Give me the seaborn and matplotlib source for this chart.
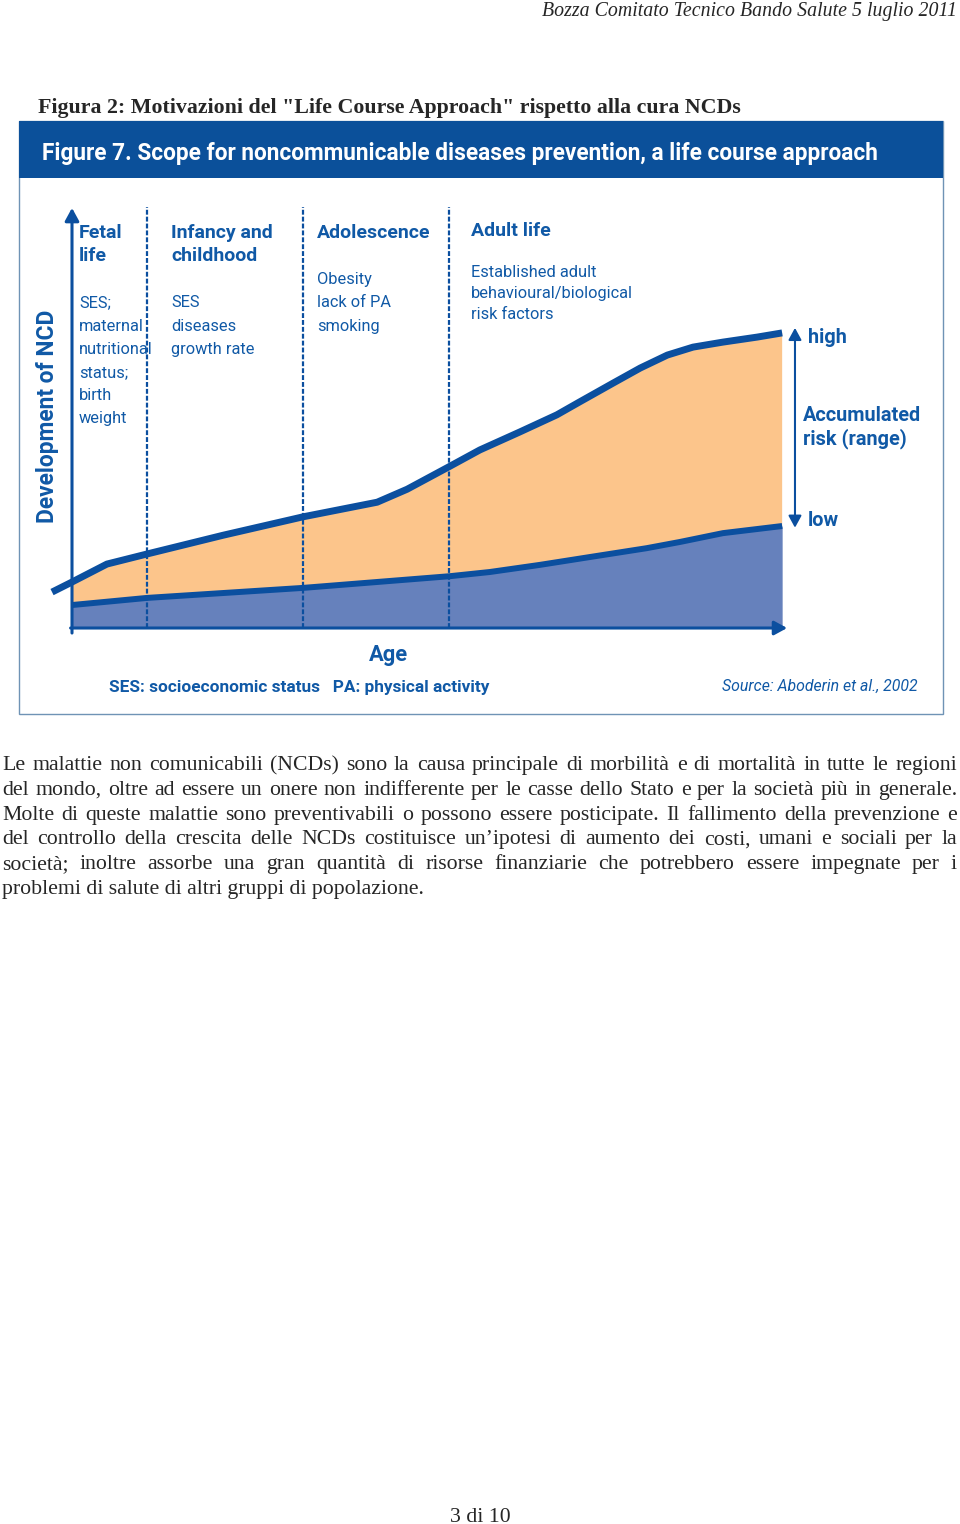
import numpy as np
import matplotlib
matplotlib.use("Agg")
import matplotlib.pyplot as plt
import seaborn as sns
from matplotlib import font_manager
from matplotlib.patches import Rectangle

# ---------------- data (age axis 0-100, risk axis 0-100) ----------------
age_high = [-2.8, 0.0, 4.9, 10.5, 21.2, 32.4, 42.8, 47.0, 53.0, 57.2, 62.8, 68.0,
            71.2, 75.9, 79.7, 83.5, 87.1, 91.3, 96.1, 99.6]
risk_high = [8.6, 11.0, 15.3, 17.7, 22.2, 26.6, 30.1, 33.2, 38.7, 42.6, 46.9, 51.0,
             54.1, 58.6, 62.2, 65.3, 67.2, 68.4, 69.6, 70.6]
age_low = [0.0, 10.5, 32.4, 53.0, 58.6, 65.6, 72.7, 80.6, 85.3, 91.3, 99.6]
risk_low = [5.5, 7.2, 9.6, 12.4, 13.4, 15.1, 17.0, 19.1, 20.6, 22.7, 24.4]
stage_bounds = [10.5, 32.4, 52.9]

stage_titles = [["Fetal", "life"], ["Infancy and", "childhood"], ["Adolescence"], ["Adult life"]]
stage_factors = [["SES;", "maternal", "nutritional", "status;", "birth", "weight"],
                 ["SES", "diseases", "growth rate"],
                 ["Obesity", "lack of PA", "smoking"],
                 ["Established adult", "behavioural/biological", "risk factors"]]

chart_title = "Figure 7. Scope for noncommunicable diseases prevention, a life course approach"
y_label = "Development of NCD"
x_label = "Age"
footnote = "SES: socioeconomic status   PA: physical activity"
source = "Source: Aboderin et al., 2002"
range_labels = ["high", "Accumulated", "risk (range)", "low"]

page_header = "Bozza Comitato Tecnico Bando Salute 5 luglio 2011"
fig_caption = "Figura 2: Motivazioni del \"Life Course Approach\" rispetto alla cura NCDs"
body_lines = [
    "Le malattie non comunicabili (NCDs) sono la causa principale di morbilità e di mortalità in tutte le regioni",
    "del mondo, oltre ad essere un onere non indifferente per le casse dello Stato e per la società più in generale.",
    "Molte di queste malattie sono preventivabili o possono essere posticipate. Il fallimento della prevenzione e",
    "del controllo della crescita delle NCDs costituisce un’ipotesi di aumento dei costi, umani e sociali per la",
    "società; inoltre assorbe una gran quantità di risorse finanziarie che potrebbero essere impegnate per i",
    "problemi di salute di altri gruppi di popolazione.",
]
page_footer = "3 di 10"

# ---------------- style ----------------
sns.set_style("white")
names = {f.name for f in font_manager.fontManager.ttflist}
NARROW = "Liberation Sans Narrow" if "Liberation Sans Narrow" in names else "Roboto"
SERIF = "Liberation Serif"
plt.rcParams["font.family"] = [NARROW, "DejaVu Sans"]

TXT = "#1059a6"
LINE = "#0b4f9f"
BAR = "#0b509a"
ORANGE = "#fcc58b"
BLUEFILL = "#6681bc"

W, H = 960, 1524
fig = plt.figure(figsize=(W / 100, H / 100), dpi=100)
fig.patch.set_facecolor("white")
R = fig.canvas.get_renderer()


def fxy(x, y):
    return x / W, 1 - y / H


def width_of(s, **kw):
    t = fig.text(0, 0, s, **kw)
    w = t.get_window_extent(R).width
    t.remove()
    return w


def fit(s, target, **kw):
    base = 12.0
    return base * target / width_of(s, fontsize=base, **kw)


def ptext(x, y, s, **kw):
    return fig.text(*fxy(x, y), s, **kw)


# ---------------- page text ----------------
hs = fit(page_header, 415, family=SERIF, style="italic")
ptext(957, 16, page_header, family=SERIF, style="italic", fontsize=hs, ha="right", va="baseline")

cs = fit(fig_caption, 695, family=SERIF, weight="bold")
ptext(38, 113, fig_caption, family=SERIF, weight="bold", fontsize=cs, ha="left", va="baseline")

bs = fit(body_lines[-1], 423, family=SERIF)
for i, line in enumerate(body_lines):
    yb = 770 + 24.8 * i
    if i == len(body_lines) - 1:
        ptext(2, yb, line, family=SERIF, fontsize=bs, va="baseline")
        continue
    words = line.split(" ")
    ws = [width_of(w, family=SERIF, fontsize=bs) for w in words]
    gap = (957 - 2 - sum(ws)) / (len(words) - 1)
    x = 2
    for w, wd in zip(words, ws):
        ptext(x, yb, w, family=SERIF, fontsize=bs, va="baseline")
        x += wd + gap

ptext(480, 1522, page_footer, family=SERIF, fontsize=bs, ha="center", va="baseline")

# ---------------- chart frame ----------------
fig.patches.append(Rectangle(fxy(19, 714), 924 / W, 593 / H, transform=fig.transFigure,
                             facecolor="white", edgecolor="#6f93b5", lw=1.0, zorder=-2))
fig.patches.append(Rectangle(fxy(19, 178), 924 / W, 57 / H, transform=fig.transFigure,
                             facecolor=BAR, edgecolor="none", zorder=-1))
ts = fit(chart_title, 834, weight="bold")
ptext(42, 160, chart_title, color="white", weight="bold", fontsize=ts, va="baseline", zorder=3)

# ---------------- data axes ----------------
ax = fig.add_axes([20 / W, 1 - 713 / H, 923 / W, 535 / H])
ax.set_zorder(1)
ax.set_xlim(-7.293, 122.16)
ax.set_ylim(-20.33, 107.66)
ax.axis("off")
ax.patch.set_visible(False)

ah = np.array(age_high)
rh = np.array(risk_high)
m = ah >= 0
ax.fill(np.concatenate([ah[m], np.array(age_low)[::-1]]),
        np.concatenate([rh[m], np.array(risk_low)[::-1]]),
        color=ORANGE, lw=0, zorder=1)
ax.fill_between(age_low, 0, risk_low, color=BLUEFILL, lw=0, zorder=1)

ax.vlines(stage_bounds, 0, 100.7, colors=LINE, lw=1.6, linestyles=(0, (2.2, 0.9)), zorder=2)

sns.lineplot(x=age_low, y=risk_low, ax=ax, color=LINE, lw=4.3, sort=False,
             estimator=None, zorder=4, solid_capstyle="butt", solid_joinstyle="round")
sns.lineplot(x=age_high, y=risk_high, ax=ax, color=LINE, lw=5.0, sort=False,
             estimator=None, zorder=4, solid_capstyle="butt", solid_joinstyle="round")

arrow = dict(arrowstyle="-|>,head_length=0.55,head_width=0.3", lw=2.2, color=LINE,
             shrinkA=0, shrinkB=0, mutation_scale=14)
ax.annotate("", xy=(0, 100.5), xytext=(0, -1.2), arrowprops=arrow, zorder=3)
ax.annotate("", xy=(100.3, 0), xytext=(-0.2, 0), arrowprops=arrow, zorder=3)
arrow2 = dict(arrowstyle="<|-|>,head_length=0.55,head_width=0.3", lw=1.5, color=LINE,
              shrinkA=0, shrinkB=0, mutation_scale=13)
ax.annotate("", xy=(101.4, 71.8), xytext=(101.4, 24.0), arrowprops=arrow2, zorder=3)

# ---------------- chart labels ----------------
head_size = fit("Adolescence", 113, weight="bold")
sub_size = fit("behavioural/biological", 161)
title_x = [79, 171, 317, 471]
title_y = [[238, 261], [238, 261], [238], [236]]
sub_y = [[307, 331, 354, 377, 400, 423], [307, 331, 354], [284, 307, 331], [277, 298, 319]]
for k in range(4):
    for s, yb in zip(stage_titles[k], title_y[k]):
        ptext(title_x[k], yb, s, color=TXT, weight="bold", fontsize=head_size, va="baseline")
    for s, yb in zip(stage_factors[k], sub_y[k]):
        ptext(title_x[k], yb, s, color=TXT, fontsize=sub_size, va="baseline")

rl_size = fit("Accumulated", 118, weight="bold")
for s, (x, yb) in zip(range_labels, [(808, 343), (803, 421), (803, 444), (808, 526)]):
    ptext(x, yb, s, color=TXT, weight="bold", fontsize=rl_size, va="baseline")

yl_size = fit(y_label, 212, weight="bold")
ptext(48, 416, y_label, color=TXT, weight="bold", fontsize=yl_size, rotation=90,
      ha="center", va="center")

ag_size = fit(x_label, 39, weight="bold")
ptext(388, 661, x_label, color=TXT, weight="bold", fontsize=ag_size, ha="center", va="baseline")

fn_size = fit(footnote, 380, weight="bold")
ptext(109, 692, footnote, color=TXT, weight="bold", fontsize=fn_size, va="baseline")

src_size = fit(source, 195, style="italic")
ptext(722, 691, source, color=TXT, style="italic", fontsize=src_size, va="baseline")

fig.savefig("out.png", dpi=100, facecolor="white")
